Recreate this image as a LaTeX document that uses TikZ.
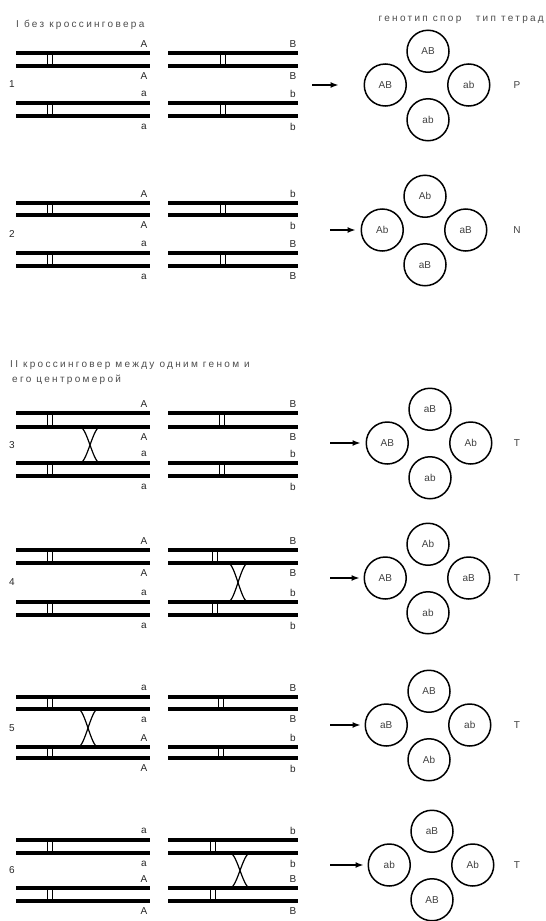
\documentclass[tikz,border=0pt]{standalone}
\usepackage{fontspec}
\setmainfont{Liberation Sans}
\newfontfamily\headfont[LetterSpace=23]{Liberation Sans}
\usetikzlibrary{arrows.meta,positioning}

% two sister chromatids: x from, x to, upper y, lower y, centromere x
\newcommand{\chromatids}[5]{%
  \draw[bar] (#1,#3) -- (#2,#3);
  \draw[bar] (#1,#4) -- (#2,#4);
  \draw[centro] (#5-2.5,#3) rectangle (#5+2.5,#4);
}
% chiasma between two chromatids: x, upper y, lower y
\newcommand{\crossover}[3]{%
  \draw[chiasma] (#1-10,#2) .. controls (#1-3,#2) and (#1+3,#3) .. (#1+10,#3);
  \draw[chiasma] (#1+10,#2) .. controls (#1+3,#2) and (#1-3,#3) .. (#1-10,#3);
}

\begin{document}
\begin{tikzpicture}[x=1pt,y=-1pt,>={Latex[length=8pt,width=6pt]},
  bar/.style={line width=3.2pt},
  centro/.style={line width=1pt},
  chiasma/.style={line width=1.2pt},
  allele/.style={font=\fontsize{10}{11}\selectfont,text=black!85,inner sep=0pt},
  spore/.style={draw,circle,line width=1.5pt,minimum size=42pt,inner sep=0pt,
    font=\fontsize{10}{11}\selectfont,text=black!75},
  head/.style={font=\headfont\fontsize{10}{11}\selectfont,text=black!70,inner sep=0pt},
  tetrad/.style={font=\fontsize{10}{11}\selectfont,text=black!75,inner sep=0pt}]
\useasboundingbox (0,0) rectangle (546,921);

% headings
\node[head,anchor=west] (h1) at (16,25) {I без кроссинговера};
\node[head] (hg) at (420,20) {генотип спор};
\node[head,anchor=east] (ht) at (544,20) {тип тетрад};
\node[head,anchor=west] (h2) at (10,365) {II кроссинговер между одним геном и};
\node[head,anchor=west] (h2b) at (12,380) {его центромерой};

% chromosome pairs
\foreach \r/\ya/\yb/\yc/\yd/\cr/\la/\lb/\ra/\rb in {
  1/53/66/103/116/223/A/a/B/b,
  2/203/215/253/266/223/A/a/b/B,
  3/413/427/463/476/222/A/a/B/b,
  4/550/563/602/615/215/A/a/B/b,
  5/697/709/747/758/221/a/A/B/b,
  6/840/853/888/901/213/a/A/b/B}{
  \chromatids{16}{150}{\ya}{\yb}{50}
  \chromatids{16}{150}{\yc}{\yd}{50}
  \chromatids{168}{298}{\ya}{\yb}{\cr}
  \chromatids{168}{298}{\yc}{\yd}{\cr}
  \node[allele] (l\r-1) at (144,\ya-9) {\la};
  \node[allele] (l\r-2) at (144,\yb+10.5) {\la};
  \node[allele] (l\r-3) at (144,\yc-9) {\lb};
  \node[allele] (l\r-4) at (144,\yd+10.5) {\lb};
  \node[allele] (r\r-1) at (293,\ya-9) {\ra};
  \node[allele] (r\r-2) at (293,\yb+10.5) {\ra};
  \node[allele] (r\r-3) at (293,\yc-9) {\rb};
  \node[allele] (r\r-4) at (293,\yd+10.5) {\rb};
  \node[allele] (n\r) at (12,{(\yb+\yc)/2}) {\r};
}

% crossovers
\crossover{90}{427}{463}
\crossover{238}{563}{602}
\crossover{88}{709}{747}
\crossover{240}{853}{888}

% spore tetrads
\foreach \r/\x/\y/\ax/\gp/\ga/\gb/\gc/\gd/\tk in {
  1/428/85/312/25/AB/AB/ab/ab/P,
  2/425/230/330/5/Ab/Ab/aB/aB/N,
  3/430/443/330/5/aB/AB/Ab/ab/T,
  4/428/578/330/4/Ab/AB/aB/ab/T,
  5/429/725/330/4/AB/aB/ab/Ab/T,
  6/432/865/330/4/aB/ab/Ab/AB/T}{
  \coordinate (c\r) at (\x,\y);
  \node[spore, above=12pt of c\r] (c\r-t) {\ga};
  \node[spore, left=21pt of c\r] (c\r-l) {\gb};
  \node[spore, right=19pt of c\r] (c\r-r) {\gc};
  \node[spore, below=13pt of c\r] (c\r-b) {\gd};
  \coordinate (s\r) at (\ax,\y);
  \draw[->,line width=1.4pt,shorten >=\gp pt] (s\r) -- (c\r-l);
  \node[tetrad] (k\r) at (517,\y) {\tk};
}
\end{tikzpicture}
\end{document}
